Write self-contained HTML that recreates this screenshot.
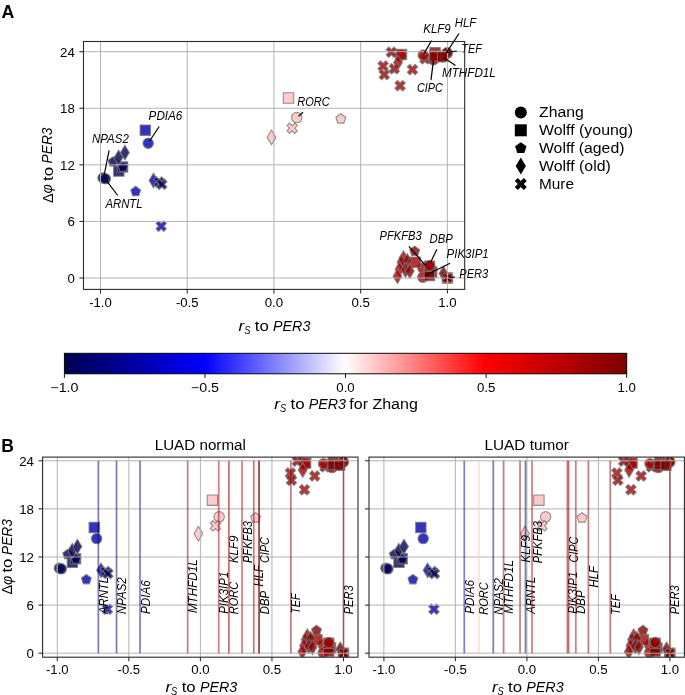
<!DOCTYPE html>
<html><head><meta charset="utf-8"><style>html,body{margin:0;padding:0;background:#fff;}svg{display:block;will-change:transform;}svg text{font-family:"Liberation Sans", sans-serif;}</style></head><body>
<svg width="685" height="695" viewBox="0 0 685 695">
<rect width="685" height="695" fill="#fff"/>
<defs>
<clipPath id="cA"><rect x="83.50" y="41.50" width="381.20" height="247.90"/></clipPath>
<clipPath id="cBL"><rect x="42.60" y="457.10" width="315.40" height="200.10"/></clipPath>
<clipPath id="cBR"><rect x="369.00" y="457.10" width="315.40" height="200.10"/></clipPath>
<linearGradient id="cb" x1="0" x2="1" y1="0" y2="0"><stop offset="0.0000" stop-color="#00004c"/><stop offset="0.0156" stop-color="#000058"/><stop offset="0.0312" stop-color="#000063"/><stop offset="0.0469" stop-color="#00006e"/><stop offset="0.0625" stop-color="#000079"/><stop offset="0.0781" stop-color="#000084"/><stop offset="0.0938" stop-color="#000090"/><stop offset="0.1094" stop-color="#00009b"/><stop offset="0.1250" stop-color="#0000a6"/><stop offset="0.1406" stop-color="#0000b1"/><stop offset="0.1562" stop-color="#0000bc"/><stop offset="0.1719" stop-color="#0000c8"/><stop offset="0.1875" stop-color="#0000d3"/><stop offset="0.2031" stop-color="#0000de"/><stop offset="0.2188" stop-color="#0000e9"/><stop offset="0.2344" stop-color="#0000f4"/><stop offset="0.2500" stop-color="#0101ff"/><stop offset="0.2656" stop-color="#1111ff"/><stop offset="0.2812" stop-color="#2121ff"/><stop offset="0.2969" stop-color="#3131ff"/><stop offset="0.3125" stop-color="#4141ff"/><stop offset="0.3281" stop-color="#5151ff"/><stop offset="0.3438" stop-color="#6161ff"/><stop offset="0.3594" stop-color="#7171ff"/><stop offset="0.3750" stop-color="#8181ff"/><stop offset="0.3906" stop-color="#9191ff"/><stop offset="0.4062" stop-color="#a1a1ff"/><stop offset="0.4219" stop-color="#b1b1ff"/><stop offset="0.4375" stop-color="#c1c1ff"/><stop offset="0.4531" stop-color="#d1d1ff"/><stop offset="0.4688" stop-color="#e1e1ff"/><stop offset="0.4844" stop-color="#f1f1ff"/><stop offset="0.5000" stop-color="#fffdfd"/><stop offset="0.5156" stop-color="#ffeded"/><stop offset="0.5312" stop-color="#ffdddd"/><stop offset="0.5469" stop-color="#ffcdcd"/><stop offset="0.5625" stop-color="#ffbdbd"/><stop offset="0.5781" stop-color="#ffadad"/><stop offset="0.5938" stop-color="#ff9d9d"/><stop offset="0.6094" stop-color="#ff8d8d"/><stop offset="0.6250" stop-color="#ff7d7d"/><stop offset="0.6406" stop-color="#ff6d6d"/><stop offset="0.6562" stop-color="#ff5d5d"/><stop offset="0.6719" stop-color="#ff4d4d"/><stop offset="0.6875" stop-color="#ff3d3d"/><stop offset="0.7031" stop-color="#ff2d2d"/><stop offset="0.7188" stop-color="#ff1d1d"/><stop offset="0.7344" stop-color="#ff0d0d"/><stop offset="0.7500" stop-color="#fe0000"/><stop offset="0.7656" stop-color="#f60000"/><stop offset="0.7812" stop-color="#ee0000"/><stop offset="0.7969" stop-color="#e60000"/><stop offset="0.8125" stop-color="#de0000"/><stop offset="0.8281" stop-color="#d60000"/><stop offset="0.8438" stop-color="#ce0000"/><stop offset="0.8594" stop-color="#c60000"/><stop offset="0.8750" stop-color="#be0000"/><stop offset="0.8906" stop-color="#b60000"/><stop offset="0.9062" stop-color="#ae0000"/><stop offset="0.9219" stop-color="#a60000"/><stop offset="0.9375" stop-color="#9e0000"/><stop offset="0.9531" stop-color="#960000"/><stop offset="0.9688" stop-color="#8e0000"/><stop offset="0.9844" stop-color="#860000"/><stop offset="1.0000" stop-color="#800000"/></linearGradient>
</defs>
<text x="1.60" y="17.60" font-size="17.60" text-anchor="start" font-weight="bold" textLength="12.85" lengthAdjust="spacingAndGlyphs" fill="#000">A</text>
<g clip-path="url(#cA)">
<path d="M422.40 64.00 L425.00 61.40 L427.60 64.00 L430.20 61.40 L427.60 58.80 L430.20 56.20 L427.60 53.60 L425.00 56.20 L422.40 53.60 L419.80 56.20 L422.40 58.80 L419.80 61.40 Z" fill="#820000" fill-opacity="0.8" stroke="#777777" stroke-opacity="0.8" stroke-width="1.10" stroke-linejoin="miter"/>
<path d="M433.40 62.20 L436.00 59.60 L438.60 62.20 L441.20 59.60 L438.60 57.00 L441.20 54.40 L438.60 51.80 L436.00 54.40 L433.40 51.80 L430.80 54.40 L433.40 57.00 L430.80 59.60 Z" fill="#820000" fill-opacity="0.8" stroke="#777777" stroke-opacity="0.8" stroke-width="1.10" stroke-linejoin="miter"/>
<circle cx="103.00" cy="178.00" r="5.20" fill="#00004f" fill-opacity="0.8" stroke="#777777" stroke-opacity="0.8" stroke-width="1.10" stroke-linejoin="miter"/>
<circle cx="105.40" cy="178.80" r="5.20" fill="#000055" fill-opacity="0.8" stroke="#777777" stroke-opacity="0.8" stroke-width="1.10" stroke-linejoin="miter"/>
<circle cx="148.20" cy="143.20" r="5.20" fill="#0000ae" fill-opacity="0.8" stroke="#777777" stroke-opacity="0.8" stroke-width="1.10" stroke-linejoin="miter"/>
<circle cx="296.70" cy="117.60" r="5.20" fill="#ffbdbd" fill-opacity="0.8" stroke="#777777" stroke-opacity="0.8" stroke-width="1.10" stroke-linejoin="miter"/>
<circle cx="400.30" cy="55.80" r="5.20" fill="#930000" fill-opacity="0.8" stroke="#777777" stroke-opacity="0.8" stroke-width="1.10" stroke-linejoin="miter"/>
<circle cx="423.20" cy="55.10" r="5.20" fill="#a20000" fill-opacity="0.8" stroke="#777777" stroke-opacity="0.8" stroke-width="1.10" stroke-linejoin="miter"/>
<circle cx="442.60" cy="57.00" r="5.20" fill="#860000" fill-opacity="0.8" stroke="#777777" stroke-opacity="0.8" stroke-width="1.10" stroke-linejoin="miter"/>
<circle cx="447.30" cy="53.20" r="5.20" fill="#820000" fill-opacity="0.8" stroke="#777777" stroke-opacity="0.8" stroke-width="1.10" stroke-linejoin="miter"/>
<circle cx="433.40" cy="59.70" r="5.20" fill="#930000" fill-opacity="0.8" stroke="#777777" stroke-opacity="0.8" stroke-width="1.10" stroke-linejoin="miter"/>
<circle cx="447.10" cy="52.80" r="5.20" fill="#820000" fill-opacity="0.8" stroke="#777777" stroke-opacity="0.8" stroke-width="1.10" stroke-linejoin="miter"/>
<circle cx="422.80" cy="268.10" r="5.20" fill="#a80000" fill-opacity="0.8" stroke="#777777" stroke-opacity="0.8" stroke-width="1.10" stroke-linejoin="miter"/>
<circle cx="422.80" cy="277.30" r="5.20" fill="#a30000" fill-opacity="0.8" stroke="#777777" stroke-opacity="0.8" stroke-width="1.10" stroke-linejoin="miter"/>
<path d="M113.60 176.30 L124.00 176.30 L124.00 165.90 L113.60 165.90 Z" fill="#00004f" fill-opacity="0.8" stroke="#777777" stroke-opacity="0.8" stroke-width="1.10" stroke-linejoin="miter"/>
<path d="M117.40 172.20 L127.80 172.20 L127.80 161.80 L117.40 161.80 Z" fill="#000055" fill-opacity="0.8" stroke="#777777" stroke-opacity="0.8" stroke-width="1.10" stroke-linejoin="miter"/>
<path d="M140.10 135.40 L150.50 135.40 L150.50 125.00 L140.10 125.00 Z" fill="#0000ae" fill-opacity="0.8" stroke="#777777" stroke-opacity="0.8" stroke-width="1.10" stroke-linejoin="miter"/>
<path d="M283.30 103.20 L293.70 103.20 L293.70 92.80 L283.30 92.80 Z" fill="#ffbdbd" fill-opacity="0.8" stroke="#777777" stroke-opacity="0.8" stroke-width="1.10" stroke-linejoin="miter"/>
<path d="M396.30 59.60 L406.70 59.60 L406.70 49.20 L396.30 49.20 Z" fill="#a20000" fill-opacity="0.8" stroke="#777777" stroke-opacity="0.8" stroke-width="1.10" stroke-linejoin="miter"/>
<path d="M429.90 57.90 L440.30 57.90 L440.30 47.50 L429.90 47.50 Z" fill="#930000" fill-opacity="0.8" stroke="#777777" stroke-opacity="0.8" stroke-width="1.10" stroke-linejoin="miter"/>
<path d="M429.60 61.00 L440.00 61.00 L440.00 50.60 L429.60 50.60 Z" fill="#860000" fill-opacity="0.8" stroke="#777777" stroke-opacity="0.8" stroke-width="1.10" stroke-linejoin="miter"/>
<path d="M437.40 61.80 L447.80 61.80 L447.80 51.40 L437.40 51.40 Z" fill="#820000" fill-opacity="0.8" stroke="#777777" stroke-opacity="0.8" stroke-width="1.10" stroke-linejoin="miter"/>
<path d="M410.10 267.50 L420.50 267.50 L420.50 257.10 L410.10 257.10 Z" fill="#a80000" fill-opacity="0.8" stroke="#777777" stroke-opacity="0.8" stroke-width="1.10" stroke-linejoin="miter"/>
<path d="M426.50 277.20 L436.90 277.20 L436.90 266.80 L426.50 266.80 Z" fill="#a30000" fill-opacity="0.8" stroke="#777777" stroke-opacity="0.8" stroke-width="1.10" stroke-linejoin="miter"/>
<path d="M424.20 278.00 L434.60 278.00 L434.60 267.60 L424.20 267.60 Z" fill="#820000" fill-opacity="0.8" stroke="#777777" stroke-opacity="0.8" stroke-width="1.10" stroke-linejoin="miter"/>
<path d="M424.20 280.70 L434.60 280.70 L434.60 270.30 L424.20 270.30 Z" fill="#860000" fill-opacity="0.8" stroke="#777777" stroke-opacity="0.8" stroke-width="1.10" stroke-linejoin="miter"/>
<path d="M424.30 271.50 L434.70 271.50 L434.70 261.10 L424.30 261.10 Z" fill="#9a0000" fill-opacity="0.8" stroke="#777777" stroke-opacity="0.8" stroke-width="1.10" stroke-linejoin="miter"/>
<path d="M442.20 283.20 L452.60 283.20 L452.60 272.80 L442.20 272.80 Z" fill="#800000" fill-opacity="0.45" stroke="#777777" stroke-opacity="0.8" stroke-width="1.10" stroke-linejoin="miter"/>
<path d="M113.10 156.70 L108.15 160.29 L110.04 166.10 L116.16 166.10 L118.05 160.29 Z" fill="#00004f" fill-opacity="0.8" stroke="#777777" stroke-opacity="0.8" stroke-width="1.10" stroke-linejoin="miter"/>
<path d="M123.00 162.00 L118.05 165.59 L119.94 171.40 L126.06 171.40 L127.95 165.59 Z" fill="#000055" fill-opacity="0.8" stroke="#777777" stroke-opacity="0.8" stroke-width="1.10" stroke-linejoin="miter"/>
<path d="M135.70 186.30 L130.75 189.89 L132.64 195.71 L138.76 195.71 L140.65 189.89 Z" fill="#0000ae" fill-opacity="0.8" stroke="#777777" stroke-opacity="0.8" stroke-width="1.10" stroke-linejoin="miter"/>
<path d="M340.80 113.70 L335.85 117.29 L337.74 123.10 L343.86 123.10 L345.75 117.29 Z" fill="#ffbdbd" fill-opacity="0.8" stroke="#777777" stroke-opacity="0.8" stroke-width="1.10" stroke-linejoin="miter"/>
<path d="M414.70 246.10 L409.75 249.69 L411.64 255.51 L417.76 255.51 L419.65 249.69 Z" fill="#820000" fill-opacity="0.8" stroke="#777777" stroke-opacity="0.8" stroke-width="1.10" stroke-linejoin="miter"/>
<path d="M447.40 272.80 L442.45 276.39 L444.34 282.21 L450.46 282.21 L452.35 276.39 Z" fill="#800000" fill-opacity="0.3" stroke="#777777" stroke-opacity="0.8" stroke-width="1.10" stroke-linejoin="miter"/>
<path d="M118.60 164.85 L123.01 157.50 L118.60 150.14 L114.19 157.50 Z" fill="#00004f" fill-opacity="0.8" stroke="#777777" stroke-opacity="0.8" stroke-width="1.10" stroke-linejoin="miter"/>
<path d="M124.90 159.95 L129.31 152.60 L124.90 145.24 L120.49 152.60 Z" fill="#000055" fill-opacity="0.8" stroke="#777777" stroke-opacity="0.8" stroke-width="1.10" stroke-linejoin="miter"/>
<path d="M153.50 187.85 L157.91 180.50 L153.50 173.14 L149.09 180.50 Z" fill="#0000ae" fill-opacity="0.8" stroke="#777777" stroke-opacity="0.8" stroke-width="1.10" stroke-linejoin="miter"/>
<path d="M271.50 144.75 L275.91 137.40 L271.50 130.04 L267.09 137.40 Z" fill="#ffbdbd" fill-opacity="0.8" stroke="#777777" stroke-opacity="0.8" stroke-width="1.10" stroke-linejoin="miter"/>
<path d="M398.00 69.85 L402.41 62.50 L398.00 55.14 L393.59 62.50 Z" fill="#a20000" fill-opacity="0.8" stroke="#777777" stroke-opacity="0.8" stroke-width="1.10" stroke-linejoin="miter"/>
<path d="M403.50 265.45 L407.91 258.10 L403.50 250.75 L399.09 258.10 Z" fill="#a80000" fill-opacity="0.8" stroke="#777777" stroke-opacity="0.8" stroke-width="1.10" stroke-linejoin="miter"/>
<path d="M401.50 269.65 L405.91 262.30 L401.50 254.95 L397.09 262.30 Z" fill="#930000" fill-opacity="0.8" stroke="#777777" stroke-opacity="0.8" stroke-width="1.10" stroke-linejoin="miter"/>
<path d="M407.40 268.35 L411.81 261.00 L407.40 253.65 L402.99 261.00 Z" fill="#820000" fill-opacity="0.8" stroke="#777777" stroke-opacity="0.8" stroke-width="1.10" stroke-linejoin="miter"/>
<path d="M399.50 276.55 L403.91 269.20 L399.50 261.85 L395.09 269.20 Z" fill="#a20000" fill-opacity="0.8" stroke="#777777" stroke-opacity="0.8" stroke-width="1.10" stroke-linejoin="miter"/>
<path d="M405.50 277.35 L409.91 270.00 L405.50 262.65 L401.09 270.00 Z" fill="#820000" fill-opacity="0.8" stroke="#777777" stroke-opacity="0.8" stroke-width="1.10" stroke-linejoin="miter"/>
<path d="M397.50 283.55 L401.91 276.20 L397.50 268.85 L393.09 276.20 Z" fill="#a30000" fill-opacity="0.8" stroke="#777777" stroke-opacity="0.8" stroke-width="1.10" stroke-linejoin="miter"/>
<path d="M409.80 278.35 L414.21 271.00 L409.80 263.65 L405.39 271.00 Z" fill="#860000" fill-opacity="0.8" stroke="#777777" stroke-opacity="0.8" stroke-width="1.10" stroke-linejoin="miter"/>
<path d="M443.40 280.85 L447.81 273.50 L443.40 266.15 L438.99 273.50 Z" fill="#800000" fill-opacity="0.8" stroke="#777777" stroke-opacity="0.8" stroke-width="1.10" stroke-linejoin="miter"/>
<circle cx="429.60" cy="265.50" r="5.20" fill="#9a0000" fill-opacity="0.8" stroke="#777777" stroke-opacity="0.8" stroke-width="1.10" stroke-linejoin="miter"/>
<path d="M156.40 187.20 L159.00 184.60 L161.60 187.20 L164.20 184.60 L161.60 182.00 L164.20 179.40 L161.60 176.80 L159.00 179.40 L156.40 176.80 L153.80 179.40 L156.40 182.00 L153.80 184.60 Z" fill="#00004f" fill-opacity="0.8" stroke="#777777" stroke-opacity="0.8" stroke-width="1.10" stroke-linejoin="miter"/>
<path d="M159.20 189.50 L161.80 186.90 L164.40 189.50 L167.00 186.90 L164.40 184.30 L167.00 181.70 L164.40 179.10 L161.80 181.70 L159.20 179.10 L156.60 181.70 L159.20 184.30 L156.60 186.90 Z" fill="#000055" fill-opacity="0.8" stroke="#777777" stroke-opacity="0.8" stroke-width="1.10" stroke-linejoin="miter"/>
<path d="M158.60 231.40 L161.20 228.80 L163.80 231.40 L166.40 228.80 L163.80 226.20 L166.40 223.60 L163.80 221.00 L161.20 223.60 L158.60 221.00 L156.00 223.60 L158.60 226.20 L156.00 228.80 Z" fill="#0000ae" fill-opacity="0.8" stroke="#777777" stroke-opacity="0.8" stroke-width="1.10" stroke-linejoin="miter"/>
<path d="M289.60 133.40 L292.20 130.80 L294.80 133.40 L297.40 130.80 L294.80 128.20 L297.40 125.60 L294.80 123.00 L292.20 125.60 L289.60 123.00 L287.00 125.60 L289.60 128.20 L287.00 130.80 Z" fill="#ffbdbd" fill-opacity="0.8" stroke="#777777" stroke-opacity="0.8" stroke-width="1.10" stroke-linejoin="miter"/>
<path d="M388.80 57.40 L391.40 54.80 L394.00 57.40 L396.60 54.80 L394.00 52.20 L396.60 49.60 L394.00 47.00 L391.40 49.60 L388.80 47.00 L386.20 49.60 L388.80 52.20 L386.20 54.80 Z" fill="#860000" fill-opacity="0.8" stroke="#777777" stroke-opacity="0.8" stroke-width="1.10" stroke-linejoin="miter"/>
<path d="M380.50 71.30 L383.10 68.70 L385.70 71.30 L388.30 68.70 L385.70 66.10 L388.30 63.50 L385.70 60.90 L383.10 63.50 L380.50 60.90 L377.90 63.50 L380.50 66.10 L377.90 68.70 Z" fill="#a20000" fill-opacity="0.8" stroke="#777777" stroke-opacity="0.8" stroke-width="1.10" stroke-linejoin="miter"/>
<path d="M381.70 79.80 L384.30 77.20 L386.90 79.80 L389.50 77.20 L386.90 74.60 L389.50 72.00 L386.90 69.40 L384.30 72.00 L381.70 69.40 L379.10 72.00 L381.70 74.60 L379.10 77.20 Z" fill="#9a0000" fill-opacity="0.8" stroke="#777777" stroke-opacity="0.8" stroke-width="1.10" stroke-linejoin="miter"/>
<path d="M391.70 73.90 L394.30 71.30 L396.90 73.90 L399.50 71.30 L396.90 68.70 L399.50 66.10 L396.90 63.50 L394.30 66.10 L391.70 63.50 L389.10 66.10 L391.70 68.70 L389.10 71.30 Z" fill="#930000" fill-opacity="0.8" stroke="#777777" stroke-opacity="0.8" stroke-width="1.10" stroke-linejoin="miter"/>
<path d="M397.50 90.90 L400.10 88.30 L402.70 90.90 L405.30 88.30 L402.70 85.70 L405.30 83.10 L402.70 80.50 L400.10 83.10 L397.50 80.50 L394.90 83.10 L397.50 85.70 L394.90 88.30 Z" fill="#a80000" fill-opacity="0.8" stroke="#777777" stroke-opacity="0.8" stroke-width="1.10" stroke-linejoin="miter"/>
<path d="M409.90 74.80 L412.50 72.20 L415.10 74.80 L417.70 72.20 L415.10 69.60 L417.70 67.00 L415.10 64.40 L412.50 67.00 L409.90 64.40 L407.30 67.00 L409.90 69.60 L407.30 72.20 Z" fill="#a30000" fill-opacity="0.8" stroke="#777777" stroke-opacity="0.8" stroke-width="1.10" stroke-linejoin="miter"/>
<path d="M444.80 283.20 L447.40 280.60 L450.00 283.20 L452.60 280.60 L450.00 278.00 L452.60 275.40 L450.00 272.80 L447.40 275.40 L444.80 272.80 L442.20 275.40 L444.80 278.00 L442.20 280.60 Z" fill="#800000" fill-opacity="0.95" stroke="#777777" stroke-opacity="0.8" stroke-width="1.10" stroke-linejoin="miter"/>
</g>
<line x1="100.50" y1="41.50" x2="100.50" y2="289.40" stroke="#b0b0b0" stroke-width="0.96" stroke-linecap="butt"/>
<line x1="187.22" y1="41.50" x2="187.22" y2="289.40" stroke="#b0b0b0" stroke-width="0.96" stroke-linecap="butt"/>
<line x1="273.95" y1="41.50" x2="273.95" y2="289.40" stroke="#b0b0b0" stroke-width="0.96" stroke-linecap="butt"/>
<line x1="360.67" y1="41.50" x2="360.67" y2="289.40" stroke="#b0b0b0" stroke-width="0.96" stroke-linecap="butt"/>
<line x1="447.40" y1="41.50" x2="447.40" y2="289.40" stroke="#b0b0b0" stroke-width="0.96" stroke-linecap="butt"/>
<line x1="83.50" y1="278.00" x2="464.70" y2="278.00" stroke="#b0b0b0" stroke-width="0.96" stroke-linecap="butt"/>
<line x1="83.50" y1="221.43" x2="464.70" y2="221.43" stroke="#b0b0b0" stroke-width="0.96" stroke-linecap="butt"/>
<line x1="83.50" y1="164.85" x2="464.70" y2="164.85" stroke="#b0b0b0" stroke-width="0.96" stroke-linecap="butt"/>
<line x1="83.50" y1="108.27" x2="464.70" y2="108.27" stroke="#b0b0b0" stroke-width="0.96" stroke-linecap="butt"/>
<line x1="83.50" y1="51.70" x2="464.70" y2="51.70" stroke="#b0b0b0" stroke-width="0.96" stroke-linecap="butt"/>
<line x1="159.20" y1="126.50" x2="149.60" y2="141.00" stroke="#000" stroke-width="1.20" stroke-linecap="butt"/>
<text x="148.60" y="120.00" font-size="11.98" text-anchor="start" font-style="italic" textLength="33.77" lengthAdjust="spacingAndGlyphs" fill="#000">PDIA6</text>
<line x1="109.10" y1="150.40" x2="104.00" y2="176.00" stroke="#000" stroke-width="1.20" stroke-linecap="butt"/>
<text x="92.00" y="142.50" font-size="11.98" text-anchor="start" font-style="italic" textLength="36.80" lengthAdjust="spacingAndGlyphs" fill="#000">NPAS2</text>
<line x1="117.80" y1="195.50" x2="106.60" y2="180.90" stroke="#000" stroke-width="1.20" stroke-linecap="butt"/>
<text x="105.40" y="208.00" font-size="11.98" text-anchor="start" font-style="italic" textLength="37.23" lengthAdjust="spacingAndGlyphs" fill="#000">ARNTL</text>
<line x1="303.00" y1="112.30" x2="298.60" y2="116.20" stroke="#000" stroke-width="1.20" stroke-linecap="butt"/>
<text x="297.30" y="106.30" font-size="11.98" text-anchor="start" font-style="italic" textLength="32.49" lengthAdjust="spacingAndGlyphs" fill="#000">RORC</text>
<line x1="431.50" y1="40.50" x2="424.00" y2="53.60" stroke="#000" stroke-width="1.20" stroke-linecap="butt"/>
<text x="423.30" y="33.30" font-size="11.98" text-anchor="start" font-style="italic" textLength="27.39" lengthAdjust="spacingAndGlyphs" fill="#000">KLF9</text>
<line x1="459.00" y1="33.50" x2="446.30" y2="52.80" stroke="#000" stroke-width="1.20" stroke-linecap="butt"/>
<text x="454.80" y="26.80" font-size="11.98" text-anchor="start" font-style="italic" textLength="21.29" lengthAdjust="spacingAndGlyphs" fill="#000">HLF</text>
<line x1="456.90" y1="51.00" x2="446.80" y2="52.30" stroke="#000" stroke-width="1.20" stroke-linecap="butt"/>
<text x="461.30" y="52.60" font-size="11.98" text-anchor="start" font-style="italic" textLength="20.54" lengthAdjust="spacingAndGlyphs" fill="#000">TEF</text>
<line x1="455.50" y1="65.50" x2="443.70" y2="57.60" stroke="#000" stroke-width="1.20" stroke-linecap="butt"/>
<text x="442.00" y="77.10" font-size="11.98" text-anchor="start" font-style="italic" textLength="53.84" lengthAdjust="spacingAndGlyphs" fill="#000">MTHFD1L</text>
<line x1="431.00" y1="79.90" x2="433.50" y2="60.20" stroke="#000" stroke-width="1.20" stroke-linecap="butt"/>
<text x="417.00" y="92.30" font-size="11.98" text-anchor="start" font-style="italic" textLength="25.93" lengthAdjust="spacingAndGlyphs" fill="#000">CIPC</text>
<line x1="408.90" y1="246.40" x2="425.70" y2="265.60" stroke="#000" stroke-width="1.20" stroke-linecap="butt"/>
<text x="379.60" y="239.90" font-size="11.98" text-anchor="start" font-style="italic" textLength="42.17" lengthAdjust="spacingAndGlyphs" fill="#000">PFKFB3</text>
<line x1="436.90" y1="249.20" x2="430.40" y2="262.70" stroke="#000" stroke-width="1.20" stroke-linecap="butt"/>
<text x="429.60" y="242.50" font-size="11.98" text-anchor="start" font-style="italic" textLength="23.27" lengthAdjust="spacingAndGlyphs" fill="#000">DBP</text>
<line x1="450.10" y1="263.20" x2="425.20" y2="275.50" stroke="#000" stroke-width="1.20" stroke-linecap="butt"/>
<text x="446.60" y="257.80" font-size="11.98" text-anchor="start" font-style="italic" textLength="42.08" lengthAdjust="spacingAndGlyphs" fill="#000">PIK3IP1</text>
<line x1="454.80" y1="277.20" x2="449.70" y2="277.20" stroke="#000" stroke-width="1.20" stroke-linecap="butt"/>
<text x="459.30" y="277.60" font-size="11.98" text-anchor="start" font-style="italic" textLength="29.00" lengthAdjust="spacingAndGlyphs" fill="#000">PER3</text>
<rect x="83.50" y="41.50" width="381.20" height="247.90" fill="none" stroke="#2a2a2a" stroke-width="1.1"/>
<line x1="100.50" y1="289.40" x2="100.50" y2="293.50" stroke="#2a2a2a" stroke-width="1.05" stroke-linecap="butt"/>
<text x="100.50" y="306.60" font-size="12.30" text-anchor="middle" textLength="22.63" lengthAdjust="spacingAndGlyphs" fill="#000">-1.0</text>
<line x1="187.22" y1="289.40" x2="187.22" y2="293.50" stroke="#2a2a2a" stroke-width="1.05" stroke-linecap="butt"/>
<text x="187.22" y="306.60" font-size="12.30" text-anchor="middle" textLength="22.63" lengthAdjust="spacingAndGlyphs" fill="#000">-0.5</text>
<line x1="273.95" y1="289.40" x2="273.95" y2="293.50" stroke="#2a2a2a" stroke-width="1.05" stroke-linecap="butt"/>
<text x="273.95" y="306.60" font-size="12.30" text-anchor="middle" textLength="18.45" lengthAdjust="spacingAndGlyphs" fill="#000">0.0</text>
<line x1="360.67" y1="289.40" x2="360.67" y2="293.50" stroke="#2a2a2a" stroke-width="1.05" stroke-linecap="butt"/>
<text x="360.67" y="306.60" font-size="12.30" text-anchor="middle" textLength="18.45" lengthAdjust="spacingAndGlyphs" fill="#000">0.5</text>
<line x1="447.40" y1="289.40" x2="447.40" y2="293.50" stroke="#2a2a2a" stroke-width="1.05" stroke-linecap="butt"/>
<text x="447.40" y="306.60" font-size="12.30" text-anchor="middle" textLength="18.45" lengthAdjust="spacingAndGlyphs" fill="#000">1.0</text>
<line x1="79.40" y1="278.00" x2="83.50" y2="278.00" stroke="#2a2a2a" stroke-width="1.05" stroke-linecap="butt"/>
<text x="74.90" y="282.80" font-size="12.30" text-anchor="end" textLength="7.38" lengthAdjust="spacingAndGlyphs" fill="#000">0</text>
<line x1="79.40" y1="221.43" x2="83.50" y2="221.43" stroke="#2a2a2a" stroke-width="1.05" stroke-linecap="butt"/>
<text x="74.90" y="226.23" font-size="12.30" text-anchor="end" textLength="7.38" lengthAdjust="spacingAndGlyphs" fill="#000">6</text>
<line x1="79.40" y1="164.85" x2="83.50" y2="164.85" stroke="#2a2a2a" stroke-width="1.05" stroke-linecap="butt"/>
<text x="74.90" y="169.65" font-size="12.30" text-anchor="end" textLength="14.76" lengthAdjust="spacingAndGlyphs" fill="#000">12</text>
<line x1="79.40" y1="108.27" x2="83.50" y2="108.27" stroke="#2a2a2a" stroke-width="1.05" stroke-linecap="butt"/>
<text x="74.90" y="113.07" font-size="12.30" text-anchor="end" textLength="14.76" lengthAdjust="spacingAndGlyphs" fill="#000">18</text>
<line x1="79.40" y1="51.70" x2="83.50" y2="51.70" stroke="#2a2a2a" stroke-width="1.05" stroke-linecap="butt"/>
<text x="74.90" y="56.50" font-size="12.30" text-anchor="end" textLength="14.76" lengthAdjust="spacingAndGlyphs" fill="#000">24</text>
<text x="238.60" y="331.00" font-size="14.84" text-anchor="start" font-style="italic" textLength="5.76" lengthAdjust="spacingAndGlyphs" fill="#000">r</text>
<text x="244.20" y="334.20" font-size="10.39" text-anchor="start" font-style="italic" textLength="6.22" lengthAdjust="spacingAndGlyphs" fill="#000">S</text>
<text x="254.80" y="331.00" font-size="14.84" text-anchor="start" textLength="14.05" lengthAdjust="spacingAndGlyphs" fill="#000">to</text>
<text x="273.00" y="331.00" font-size="14.84" text-anchor="start" font-style="italic" textLength="37.36" lengthAdjust="spacingAndGlyphs" fill="#000">PER3</text>
<text x="52.50" y="203.00" font-size="14.84" text-anchor="start" transform="rotate(-90 52.50 203.00)" textLength="9.58" lengthAdjust="spacingAndGlyphs" fill="#000">Δ</text>
<text x="52.50" y="193.40" font-size="14.84" text-anchor="start" font-style="italic" transform="rotate(-90 52.50 193.40)" textLength="9.24" lengthAdjust="spacingAndGlyphs" fill="#000">φ</text>
<text x="52.50" y="181.00" font-size="14.84" text-anchor="start" transform="rotate(-90 52.50 181.00)" textLength="14.05" lengthAdjust="spacingAndGlyphs" fill="#000">to</text>
<text x="52.50" y="163.40" font-size="14.84" text-anchor="start" font-style="italic" transform="rotate(-90 52.50 163.40)" textLength="35.92" lengthAdjust="spacingAndGlyphs" fill="#000">PER3</text>
<circle cx="520.80" cy="112.40" r="6.00" fill="#000" fill-opacity="1"/>
<text x="539.00" y="117.00" font-size="14.84" text-anchor="start" textLength="44.80" lengthAdjust="spacingAndGlyphs" fill="#000">Zhang</text>
<path d="M514.80 136.30 L526.80 136.30 L526.80 124.30 L514.80 124.30 Z" fill="#000" fill-opacity="1"/>
<text x="539.00" y="134.90" font-size="14.84" text-anchor="start" textLength="93.98" lengthAdjust="spacingAndGlyphs" fill="#000">Wolff (young)</text>
<path d="M520.80 142.20 L515.09 146.35 L517.27 153.05 L524.33 153.05 L526.51 146.35 Z" fill="#000" fill-opacity="1"/>
<text x="539.00" y="152.80" font-size="14.84" text-anchor="start" textLength="85.46" lengthAdjust="spacingAndGlyphs" fill="#000">Wolff (aged)</text>
<path d="M520.80 174.59 L525.89 166.10 L520.80 157.61 L515.71 166.10 Z" fill="#000" fill-opacity="1"/>
<text x="539.00" y="170.70" font-size="14.84" text-anchor="start" textLength="71.84" lengthAdjust="spacingAndGlyphs" fill="#000">Wolff (old)</text>
<path d="M517.80 190.00 L520.80 187.00 L523.80 190.00 L526.80 187.00 L523.80 184.00 L526.80 181.00 L523.80 178.00 L520.80 181.00 L517.80 178.00 L514.80 181.00 L517.80 184.00 L514.80 187.00 Z" fill="#000" fill-opacity="1"/>
<text x="539.00" y="188.60" font-size="14.84" text-anchor="start" textLength="35.01" lengthAdjust="spacingAndGlyphs" fill="#000">Mure</text>
<rect x="64.4" y="353.3" width="562.3" height="20.5" fill="url(#cb)" stroke="#000" stroke-width="0.96"/>
<line x1="64.40" y1="373.80" x2="64.40" y2="377.90" stroke="#000" stroke-width="0.96" stroke-linecap="butt"/>
<text x="64.40" y="391.50" font-size="12.30" text-anchor="middle" textLength="28.17" lengthAdjust="spacingAndGlyphs" fill="#000">−1.0</text>
<line x1="204.97" y1="373.80" x2="204.97" y2="377.90" stroke="#000" stroke-width="0.96" stroke-linecap="butt"/>
<text x="204.97" y="391.50" font-size="12.30" text-anchor="middle" textLength="28.17" lengthAdjust="spacingAndGlyphs" fill="#000">−0.5</text>
<line x1="345.55" y1="373.80" x2="345.55" y2="377.90" stroke="#000" stroke-width="0.96" stroke-linecap="butt"/>
<text x="345.55" y="391.50" font-size="12.30" text-anchor="middle" textLength="18.45" lengthAdjust="spacingAndGlyphs" fill="#000">0.0</text>
<line x1="486.12" y1="373.80" x2="486.12" y2="377.90" stroke="#000" stroke-width="0.96" stroke-linecap="butt"/>
<text x="486.12" y="391.50" font-size="12.30" text-anchor="middle" textLength="18.45" lengthAdjust="spacingAndGlyphs" fill="#000">0.5</text>
<line x1="626.70" y1="373.80" x2="626.70" y2="377.90" stroke="#000" stroke-width="0.96" stroke-linecap="butt"/>
<text x="626.70" y="391.50" font-size="12.30" text-anchor="middle" textLength="18.45" lengthAdjust="spacingAndGlyphs" fill="#000">1.0</text>
<text x="274.30" y="409.10" font-size="14.84" text-anchor="start" font-style="italic" textLength="5.76" lengthAdjust="spacingAndGlyphs" fill="#000">r</text>
<text x="279.90" y="412.30" font-size="10.39" text-anchor="start" font-style="italic" textLength="6.22" lengthAdjust="spacingAndGlyphs" fill="#000">S</text>
<text x="290.50" y="409.10" font-size="14.84" text-anchor="start" textLength="14.05" lengthAdjust="spacingAndGlyphs" fill="#000">to</text>
<text x="308.70" y="409.10" font-size="14.84" text-anchor="start" font-style="italic" textLength="37.36" lengthAdjust="spacingAndGlyphs" fill="#000">PER3</text>
<text x="349.30" y="409.10" font-size="14.84" text-anchor="start" textLength="68.50" lengthAdjust="spacingAndGlyphs" fill="#000">for Zhang</text>
<text x="1.20" y="452.20" font-size="17.60" text-anchor="start" font-weight="bold" textLength="12.65" lengthAdjust="spacingAndGlyphs" fill="#000">B</text>
<g clip-path="url(#cBL)">
<path d="M322.42 472.03 L325.02 469.43 L327.62 472.03 L330.22 469.43 L327.62 466.83 L330.22 464.23 L327.62 461.63 L325.02 464.23 L322.42 461.63 L319.82 464.23 L322.42 466.83 L319.82 469.43 Z" fill="#820000" fill-opacity="0.8" stroke="#777777" stroke-opacity="0.8" stroke-width="1.10" stroke-linejoin="miter"/>
<path d="M331.49 470.50 L334.09 467.90 L336.69 470.50 L339.29 467.90 L336.69 465.30 L339.29 462.70 L336.69 460.10 L334.09 462.70 L331.49 460.10 L328.89 462.70 L331.49 465.30 L328.89 467.90 Z" fill="#820000" fill-opacity="0.8" stroke="#777777" stroke-opacity="0.8" stroke-width="1.10" stroke-linejoin="miter"/>
<circle cx="59.36" cy="568.18" r="5.20" fill="#00004f" fill-opacity="0.8" stroke="#777777" stroke-opacity="0.8" stroke-width="1.10" stroke-linejoin="miter"/>
<circle cx="61.34" cy="568.86" r="5.20" fill="#000055" fill-opacity="0.8" stroke="#777777" stroke-opacity="0.8" stroke-width="1.10" stroke-linejoin="miter"/>
<circle cx="96.65" cy="538.59" r="5.20" fill="#0000ae" fill-opacity="0.8" stroke="#777777" stroke-opacity="0.8" stroke-width="1.10" stroke-linejoin="miter"/>
<circle cx="219.17" cy="516.83" r="5.20" fill="#ffbdbd" fill-opacity="0.8" stroke="#777777" stroke-opacity="0.8" stroke-width="1.10" stroke-linejoin="miter"/>
<circle cx="304.64" cy="464.28" r="5.20" fill="#930000" fill-opacity="0.8" stroke="#777777" stroke-opacity="0.8" stroke-width="1.10" stroke-linejoin="miter"/>
<circle cx="323.53" cy="463.69" r="5.20" fill="#a20000" fill-opacity="0.8" stroke="#777777" stroke-opacity="0.8" stroke-width="1.10" stroke-linejoin="miter"/>
<circle cx="339.54" cy="465.30" r="5.20" fill="#860000" fill-opacity="0.8" stroke="#777777" stroke-opacity="0.8" stroke-width="1.10" stroke-linejoin="miter"/>
<circle cx="343.42" cy="462.07" r="5.20" fill="#820000" fill-opacity="0.8" stroke="#777777" stroke-opacity="0.8" stroke-width="1.10" stroke-linejoin="miter"/>
<circle cx="331.95" cy="467.60" r="5.20" fill="#930000" fill-opacity="0.8" stroke="#777777" stroke-opacity="0.8" stroke-width="1.10" stroke-linejoin="miter"/>
<circle cx="343.25" cy="461.73" r="5.20" fill="#820000" fill-opacity="0.8" stroke="#777777" stroke-opacity="0.8" stroke-width="1.10" stroke-linejoin="miter"/>
<circle cx="323.20" cy="644.78" r="5.20" fill="#a80000" fill-opacity="0.8" stroke="#777777" stroke-opacity="0.8" stroke-width="1.10" stroke-linejoin="miter"/>
<circle cx="323.20" cy="652.60" r="5.20" fill="#a30000" fill-opacity="0.8" stroke="#777777" stroke-opacity="0.8" stroke-width="1.10" stroke-linejoin="miter"/>
<path d="M67.20 567.51 L77.60 567.51 L77.60 557.11 L67.20 557.11 Z" fill="#00004f" fill-opacity="0.8" stroke="#777777" stroke-opacity="0.8" stroke-width="1.10" stroke-linejoin="miter"/>
<path d="M70.33 564.03 L80.73 564.03 L80.73 553.63 L70.33 553.63 Z" fill="#000055" fill-opacity="0.8" stroke="#777777" stroke-opacity="0.8" stroke-width="1.10" stroke-linejoin="miter"/>
<path d="M89.06 532.74 L99.46 532.74 L99.46 522.34 L89.06 522.34 Z" fill="#0000ae" fill-opacity="0.8" stroke="#777777" stroke-opacity="0.8" stroke-width="1.10" stroke-linejoin="miter"/>
<path d="M207.20 505.36 L217.60 505.36 L217.60 494.96 L207.20 494.96 Z" fill="#ffbdbd" fill-opacity="0.8" stroke="#777777" stroke-opacity="0.8" stroke-width="1.10" stroke-linejoin="miter"/>
<path d="M300.43 468.29 L310.83 468.29 L310.83 457.89 L300.43 457.89 Z" fill="#a20000" fill-opacity="0.8" stroke="#777777" stroke-opacity="0.8" stroke-width="1.10" stroke-linejoin="miter"/>
<path d="M328.15 466.85 L338.55 466.85 L338.55 456.45 L328.15 456.45 Z" fill="#930000" fill-opacity="0.8" stroke="#777777" stroke-opacity="0.8" stroke-width="1.10" stroke-linejoin="miter"/>
<path d="M327.90 469.48 L338.30 469.48 L338.30 459.08 L327.90 459.08 Z" fill="#860000" fill-opacity="0.8" stroke="#777777" stroke-opacity="0.8" stroke-width="1.10" stroke-linejoin="miter"/>
<path d="M334.34 470.16 L344.74 470.16 L344.74 459.76 L334.34 459.76 Z" fill="#820000" fill-opacity="0.8" stroke="#777777" stroke-opacity="0.8" stroke-width="1.10" stroke-linejoin="miter"/>
<path d="M311.82 645.05 L322.22 645.05 L322.22 634.65 L311.82 634.65 Z" fill="#a80000" fill-opacity="0.8" stroke="#777777" stroke-opacity="0.8" stroke-width="1.10" stroke-linejoin="miter"/>
<path d="M325.35 653.30 L335.75 653.30 L335.75 642.90 L325.35 642.90 Z" fill="#a30000" fill-opacity="0.8" stroke="#777777" stroke-opacity="0.8" stroke-width="1.10" stroke-linejoin="miter"/>
<path d="M323.45 653.98 L333.85 653.98 L333.85 643.58 L323.45 643.58 Z" fill="#820000" fill-opacity="0.8" stroke="#777777" stroke-opacity="0.8" stroke-width="1.10" stroke-linejoin="miter"/>
<path d="M323.45 656.27 L333.85 656.27 L333.85 645.87 L323.45 645.87 Z" fill="#860000" fill-opacity="0.8" stroke="#777777" stroke-opacity="0.8" stroke-width="1.10" stroke-linejoin="miter"/>
<path d="M323.53 648.45 L333.93 648.45 L333.93 638.05 L323.53 638.05 Z" fill="#9a0000" fill-opacity="0.8" stroke="#777777" stroke-opacity="0.8" stroke-width="1.10" stroke-linejoin="miter"/>
<path d="M338.30 658.40 L348.70 658.40 L348.70 648.00 L338.30 648.00 Z" fill="#800000" fill-opacity="0.45" stroke="#777777" stroke-opacity="0.8" stroke-width="1.10" stroke-linejoin="miter"/>
<path d="M67.70 549.29 L62.75 552.88 L64.64 558.70 L70.75 558.70 L72.64 552.88 Z" fill="#00004f" fill-opacity="0.8" stroke="#777777" stroke-opacity="0.8" stroke-width="1.10" stroke-linejoin="miter"/>
<path d="M75.86 553.80 L70.92 557.39 L72.81 563.20 L78.92 563.20 L80.81 557.39 Z" fill="#000055" fill-opacity="0.8" stroke="#777777" stroke-opacity="0.8" stroke-width="1.10" stroke-linejoin="miter"/>
<path d="M86.34 574.46 L81.40 578.05 L83.28 583.86 L89.40 583.86 L91.29 578.05 Z" fill="#0000ae" fill-opacity="0.8" stroke="#777777" stroke-opacity="0.8" stroke-width="1.10" stroke-linejoin="miter"/>
<path d="M255.55 512.73 L250.61 516.32 L252.50 522.14 L258.61 522.14 L260.50 516.32 Z" fill="#ffbdbd" fill-opacity="0.8" stroke="#777777" stroke-opacity="0.8" stroke-width="1.10" stroke-linejoin="miter"/>
<path d="M316.52 625.30 L311.58 628.89 L313.47 634.71 L319.58 634.71 L321.47 628.89 Z" fill="#820000" fill-opacity="0.8" stroke="#777777" stroke-opacity="0.8" stroke-width="1.10" stroke-linejoin="miter"/>
<path d="M343.50 648.00 L338.55 651.59 L340.44 657.41 L346.56 657.41 L348.45 651.59 Z" fill="#800000" fill-opacity="0.3" stroke="#777777" stroke-opacity="0.8" stroke-width="1.10" stroke-linejoin="miter"/>
<path d="M72.23 558.10 L76.65 550.75 L72.23 543.40 L67.82 550.75 Z" fill="#00004f" fill-opacity="0.8" stroke="#777777" stroke-opacity="0.8" stroke-width="1.10" stroke-linejoin="miter"/>
<path d="M77.43 553.94 L81.84 546.58 L77.43 539.23 L73.02 546.58 Z" fill="#000055" fill-opacity="0.8" stroke="#777777" stroke-opacity="0.8" stroke-width="1.10" stroke-linejoin="miter"/>
<path d="M101.03 577.66 L105.44 570.30 L101.03 562.95 L96.61 570.30 Z" fill="#0000ae" fill-opacity="0.8" stroke="#777777" stroke-opacity="0.8" stroke-width="1.10" stroke-linejoin="miter"/>
<path d="M198.38 541.01 L202.79 533.66 L198.38 526.31 L193.97 533.66 Z" fill="#ffbdbd" fill-opacity="0.8" stroke="#777777" stroke-opacity="0.8" stroke-width="1.10" stroke-linejoin="miter"/>
<path d="M302.74 477.33 L307.16 469.98 L302.74 462.63 L298.33 469.98 Z" fill="#a20000" fill-opacity="0.8" stroke="#777777" stroke-opacity="0.8" stroke-width="1.10" stroke-linejoin="miter"/>
<path d="M307.28 643.63 L311.69 636.28 L307.28 628.93 L302.87 636.28 Z" fill="#a80000" fill-opacity="0.8" stroke="#777777" stroke-opacity="0.8" stroke-width="1.10" stroke-linejoin="miter"/>
<path d="M305.63 647.21 L310.04 639.85 L305.63 632.50 L301.22 639.85 Z" fill="#930000" fill-opacity="0.8" stroke="#777777" stroke-opacity="0.8" stroke-width="1.10" stroke-linejoin="miter"/>
<path d="M310.50 646.10 L314.91 638.75 L310.50 631.39 L306.09 638.75 Z" fill="#820000" fill-opacity="0.8" stroke="#777777" stroke-opacity="0.8" stroke-width="1.10" stroke-linejoin="miter"/>
<path d="M303.98 653.07 L308.39 645.72 L303.98 638.36 L299.57 645.72 Z" fill="#a20000" fill-opacity="0.8" stroke="#777777" stroke-opacity="0.8" stroke-width="1.10" stroke-linejoin="miter"/>
<path d="M308.93 653.75 L313.34 646.40 L308.93 639.04 L304.52 646.40 Z" fill="#820000" fill-opacity="0.8" stroke="#777777" stroke-opacity="0.8" stroke-width="1.10" stroke-linejoin="miter"/>
<path d="M302.33 659.02 L306.74 651.67 L302.33 644.32 L297.92 651.67 Z" fill="#a30000" fill-opacity="0.8" stroke="#777777" stroke-opacity="0.8" stroke-width="1.10" stroke-linejoin="miter"/>
<path d="M312.48 654.60 L316.89 647.25 L312.48 639.89 L308.07 647.25 Z" fill="#860000" fill-opacity="0.8" stroke="#777777" stroke-opacity="0.8" stroke-width="1.10" stroke-linejoin="miter"/>
<path d="M340.20 656.73 L344.61 649.37 L340.20 642.02 L335.79 649.37 Z" fill="#800000" fill-opacity="0.8" stroke="#777777" stroke-opacity="0.8" stroke-width="1.10" stroke-linejoin="miter"/>
<circle cx="328.81" cy="642.57" r="5.20" fill="#9a0000" fill-opacity="0.8" stroke="#777777" stroke-opacity="0.8" stroke-width="1.10" stroke-linejoin="miter"/>
<path d="M102.96 576.78 L105.56 574.18 L108.16 576.78 L110.76 574.18 L108.16 571.58 L110.76 568.98 L108.16 566.38 L105.56 568.98 L102.96 566.38 L100.36 568.98 L102.96 571.58 L100.36 574.18 Z" fill="#00004f" fill-opacity="0.8" stroke="#777777" stroke-opacity="0.8" stroke-width="1.10" stroke-linejoin="miter"/>
<path d="M105.27 578.73 L107.87 576.13 L110.47 578.73 L113.07 576.13 L110.47 573.53 L113.07 570.93 L110.47 568.33 L107.87 570.93 L105.27 568.33 L102.67 570.93 L105.27 573.53 L102.67 576.13 Z" fill="#000055" fill-opacity="0.8" stroke="#777777" stroke-opacity="0.8" stroke-width="1.10" stroke-linejoin="miter"/>
<path d="M104.78 614.36 L107.38 611.76 L109.98 614.36 L112.58 611.76 L109.98 609.16 L112.58 606.56 L109.98 603.96 L107.38 606.56 L104.78 603.96 L102.18 606.56 L104.78 609.16 L102.18 611.76 Z" fill="#0000ae" fill-opacity="0.8" stroke="#777777" stroke-opacity="0.8" stroke-width="1.10" stroke-linejoin="miter"/>
<path d="M212.86 531.04 L215.46 528.44 L218.06 531.04 L220.66 528.44 L218.06 525.84 L220.66 523.24 L218.06 520.64 L215.46 523.24 L212.86 520.64 L210.26 523.24 L212.86 525.84 L210.26 528.44 Z" fill="#ffbdbd" fill-opacity="0.8" stroke="#777777" stroke-opacity="0.8" stroke-width="1.10" stroke-linejoin="miter"/>
<path d="M294.70 466.42 L297.30 463.82 L299.90 466.42 L302.50 463.82 L299.90 461.22 L302.50 458.62 L299.90 456.02 L297.30 458.62 L294.70 456.02 L292.10 458.62 L294.70 461.22 L292.10 463.82 Z" fill="#860000" fill-opacity="0.8" stroke="#777777" stroke-opacity="0.8" stroke-width="1.10" stroke-linejoin="miter"/>
<path d="M287.85 478.24 L290.45 475.64 L293.05 478.24 L295.65 475.64 L293.05 473.04 L295.65 470.44 L293.05 467.84 L290.45 470.44 L287.85 467.84 L285.25 470.44 L287.85 473.04 L285.25 475.64 Z" fill="#a20000" fill-opacity="0.8" stroke="#777777" stroke-opacity="0.8" stroke-width="1.10" stroke-linejoin="miter"/>
<path d="M288.84 485.47 L291.44 482.87 L294.04 485.47 L296.64 482.87 L294.04 480.27 L296.64 477.67 L294.04 475.07 L291.44 477.67 L288.84 475.07 L286.24 477.67 L288.84 480.27 L286.24 482.87 Z" fill="#9a0000" fill-opacity="0.8" stroke="#777777" stroke-opacity="0.8" stroke-width="1.10" stroke-linejoin="miter"/>
<path d="M301.88 494.90 L304.48 492.30 L307.08 494.90 L309.68 492.30 L307.08 489.70 L309.68 487.10 L307.08 484.50 L304.48 487.10 L301.88 484.50 L299.28 487.10 L301.88 489.70 L299.28 492.30 Z" fill="#a80000" fill-opacity="0.8" stroke="#777777" stroke-opacity="0.8" stroke-width="1.10" stroke-linejoin="miter"/>
<path d="M312.11 481.22 L314.71 478.62 L317.31 481.22 L319.91 478.62 L317.31 476.02 L319.91 473.42 L317.31 470.82 L314.71 473.42 L312.11 470.82 L309.51 473.42 L312.11 476.02 L309.51 478.62 Z" fill="#a30000" fill-opacity="0.8" stroke="#777777" stroke-opacity="0.8" stroke-width="1.10" stroke-linejoin="miter"/>
<path d="M340.90 658.40 L343.50 655.80 L346.10 658.40 L348.70 655.80 L346.10 653.20 L348.70 650.60 L346.10 648.00 L343.50 650.60 L340.90 648.00 L338.30 650.60 L340.90 653.20 L338.30 655.80 Z" fill="#800000" fill-opacity="0.95" stroke="#777777" stroke-opacity="0.8" stroke-width="1.10" stroke-linejoin="miter"/>
</g>
<line x1="57.30" y1="457.10" x2="57.30" y2="657.20" stroke="#b0b0b0" stroke-width="0.96" stroke-linecap="butt"/>
<line x1="128.85" y1="457.10" x2="128.85" y2="657.20" stroke="#b0b0b0" stroke-width="0.96" stroke-linecap="butt"/>
<line x1="200.40" y1="457.10" x2="200.40" y2="657.20" stroke="#b0b0b0" stroke-width="0.96" stroke-linecap="butt"/>
<line x1="271.95" y1="457.10" x2="271.95" y2="657.20" stroke="#b0b0b0" stroke-width="0.96" stroke-linecap="butt"/>
<line x1="343.50" y1="457.10" x2="343.50" y2="657.20" stroke="#b0b0b0" stroke-width="0.96" stroke-linecap="butt"/>
<line x1="42.60" y1="653.20" x2="358.00" y2="653.20" stroke="#b0b0b0" stroke-width="0.96" stroke-linecap="butt"/>
<line x1="42.60" y1="605.10" x2="358.00" y2="605.10" stroke="#b0b0b0" stroke-width="0.96" stroke-linecap="butt"/>
<line x1="42.60" y1="557.00" x2="358.00" y2="557.00" stroke="#b0b0b0" stroke-width="0.96" stroke-linecap="butt"/>
<line x1="42.60" y1="508.90" x2="358.00" y2="508.90" stroke="#b0b0b0" stroke-width="0.96" stroke-linecap="butt"/>
<line x1="42.60" y1="460.80" x2="358.00" y2="460.80" stroke="#b0b0b0" stroke-width="0.96" stroke-linecap="butt"/>
<g clip-path="url(#cBL)">
<text x="107.97" y="614.10" font-size="11.98" text-anchor="start" font-style="italic" transform="rotate(-90 107.97 614.10)" textLength="37.23" lengthAdjust="spacingAndGlyphs" fill="#000">ARNTL</text>
<text x="126.14" y="614.10" font-size="11.98" text-anchor="start" font-style="italic" transform="rotate(-90 126.14 614.10)" textLength="36.80" lengthAdjust="spacingAndGlyphs" fill="#000">NPAS2</text>
<text x="149.61" y="614.10" font-size="11.98" text-anchor="start" font-style="italic" transform="rotate(-90 149.61 614.10)" textLength="33.77" lengthAdjust="spacingAndGlyphs" fill="#000">PDIA6</text>
<text x="197.26" y="613.10" font-size="11.98" text-anchor="start" font-style="italic" transform="rotate(-90 197.26 613.10)" textLength="53.84" lengthAdjust="spacingAndGlyphs" fill="#000">MTHFD1L</text>
<text x="228.32" y="613.80" font-size="11.98" text-anchor="start" font-style="italic" transform="rotate(-90 228.32 613.80)" textLength="42.08" lengthAdjust="spacingAndGlyphs" fill="#000">PIK3IP1</text>
<text x="238.48" y="614.20" font-size="11.98" text-anchor="start" font-style="italic" transform="rotate(-90 238.48 614.20)" textLength="32.49" lengthAdjust="spacingAndGlyphs" fill="#000">RORC</text>
<text x="238.48" y="563.10" font-size="11.98" text-anchor="start" font-style="italic" transform="rotate(-90 238.48 563.10)" textLength="27.39" lengthAdjust="spacingAndGlyphs" fill="#000">KLF9</text>
<text x="251.64" y="563.10" font-size="11.98" text-anchor="start" font-style="italic" transform="rotate(-90 251.64 563.10)" textLength="42.17" lengthAdjust="spacingAndGlyphs" fill="#000">PFKFB3</text>
<text x="263.38" y="586.50" font-size="11.98" text-anchor="start" font-style="italic" transform="rotate(-90 263.38 586.50)" textLength="21.29" lengthAdjust="spacingAndGlyphs" fill="#000">HLF</text>
<text x="268.67" y="614.20" font-size="11.98" text-anchor="start" font-style="italic" transform="rotate(-90 268.67 614.20)" textLength="23.27" lengthAdjust="spacingAndGlyphs" fill="#000">DBP</text>
<text x="268.67" y="563.10" font-size="11.98" text-anchor="start" font-style="italic" transform="rotate(-90 268.67 563.10)" textLength="25.93" lengthAdjust="spacingAndGlyphs" fill="#000">CIPC</text>
<text x="300.44" y="613.80" font-size="11.98" text-anchor="start" font-style="italic" transform="rotate(-90 300.44 613.80)" textLength="20.54" lengthAdjust="spacingAndGlyphs" fill="#000">TEF</text>
<text x="353.10" y="614.30" font-size="11.98" text-anchor="start" font-style="italic" transform="rotate(-90 353.10 614.30)" textLength="29.00" lengthAdjust="spacingAndGlyphs" fill="#000">PER3</text>
<line x1="98.37" y1="653.20" x2="98.37" y2="460.80" stroke="#000055" stroke-width="1.75" stroke-opacity="0.5" stroke-linecap="butt"/>
<line x1="116.54" y1="653.20" x2="116.54" y2="460.80" stroke="#00004f" stroke-width="1.75" stroke-opacity="0.5" stroke-linecap="butt"/>
<line x1="140.01" y1="653.20" x2="140.01" y2="460.80" stroke="#0000ae" stroke-width="1.75" stroke-opacity="0.5" stroke-linecap="butt"/>
<line x1="187.66" y1="653.20" x2="187.66" y2="460.80" stroke="#860000" stroke-width="1.75" stroke-opacity="0.5" stroke-linecap="butt"/>
<line x1="218.72" y1="653.20" x2="218.72" y2="460.80" stroke="#a30000" stroke-width="1.75" stroke-opacity="0.5" stroke-linecap="butt"/>
<line x1="228.88" y1="653.20" x2="228.88" y2="460.80" stroke="#ffbdbd" stroke-width="1.75" stroke-opacity="0.5" stroke-linecap="butt"/>
<line x1="228.88" y1="653.20" x2="228.88" y2="460.80" stroke="#a20000" stroke-width="1.75" stroke-opacity="0.5" stroke-linecap="butt"/>
<line x1="242.04" y1="653.20" x2="242.04" y2="460.80" stroke="#a80000" stroke-width="1.75" stroke-opacity="0.5" stroke-linecap="butt"/>
<line x1="253.78" y1="653.20" x2="253.78" y2="460.80" stroke="#820000" stroke-width="1.75" stroke-opacity="0.5" stroke-linecap="butt"/>
<line x1="259.07" y1="653.20" x2="259.07" y2="460.80" stroke="#9a0000" stroke-width="1.75" stroke-opacity="0.5" stroke-linecap="butt"/>
<line x1="259.07" y1="653.20" x2="259.07" y2="460.80" stroke="#930000" stroke-width="1.75" stroke-opacity="0.5" stroke-linecap="butt"/>
<line x1="290.84" y1="653.20" x2="290.84" y2="460.80" stroke="#820000" stroke-width="1.75" stroke-opacity="0.5" stroke-linecap="butt"/>
<line x1="343.50" y1="653.20" x2="343.50" y2="460.80" stroke="#800000" stroke-width="1.75" stroke-opacity="0.5" stroke-linecap="butt"/>
</g>
<rect x="42.60" y="457.10" width="315.40" height="200.10" fill="none" stroke="#2a2a2a" stroke-width="1.1"/>
<line x1="57.30" y1="657.20" x2="57.30" y2="661.30" stroke="#2a2a2a" stroke-width="1.05" stroke-linecap="butt"/>
<text x="57.30" y="674.40" font-size="12.30" text-anchor="middle" textLength="22.63" lengthAdjust="spacingAndGlyphs" fill="#000">-1.0</text>
<line x1="128.85" y1="657.20" x2="128.85" y2="661.30" stroke="#2a2a2a" stroke-width="1.05" stroke-linecap="butt"/>
<text x="128.85" y="674.40" font-size="12.30" text-anchor="middle" textLength="22.63" lengthAdjust="spacingAndGlyphs" fill="#000">-0.5</text>
<line x1="200.40" y1="657.20" x2="200.40" y2="661.30" stroke="#2a2a2a" stroke-width="1.05" stroke-linecap="butt"/>
<text x="200.40" y="674.40" font-size="12.30" text-anchor="middle" textLength="18.45" lengthAdjust="spacingAndGlyphs" fill="#000">0.0</text>
<line x1="271.95" y1="657.20" x2="271.95" y2="661.30" stroke="#2a2a2a" stroke-width="1.05" stroke-linecap="butt"/>
<text x="271.95" y="674.40" font-size="12.30" text-anchor="middle" textLength="18.45" lengthAdjust="spacingAndGlyphs" fill="#000">0.5</text>
<line x1="343.50" y1="657.20" x2="343.50" y2="661.30" stroke="#2a2a2a" stroke-width="1.05" stroke-linecap="butt"/>
<text x="343.50" y="674.40" font-size="12.30" text-anchor="middle" textLength="18.45" lengthAdjust="spacingAndGlyphs" fill="#000">1.0</text>
<line x1="38.50" y1="653.20" x2="42.60" y2="653.20" stroke="#2a2a2a" stroke-width="1.05" stroke-linecap="butt"/>
<text x="34.00" y="658.00" font-size="12.30" text-anchor="end" textLength="7.38" lengthAdjust="spacingAndGlyphs" fill="#000">0</text>
<line x1="38.50" y1="605.10" x2="42.60" y2="605.10" stroke="#2a2a2a" stroke-width="1.05" stroke-linecap="butt"/>
<text x="34.00" y="609.90" font-size="12.30" text-anchor="end" textLength="7.38" lengthAdjust="spacingAndGlyphs" fill="#000">6</text>
<line x1="38.50" y1="557.00" x2="42.60" y2="557.00" stroke="#2a2a2a" stroke-width="1.05" stroke-linecap="butt"/>
<text x="34.00" y="561.80" font-size="12.30" text-anchor="end" textLength="14.76" lengthAdjust="spacingAndGlyphs" fill="#000">12</text>
<line x1="38.50" y1="508.90" x2="42.60" y2="508.90" stroke="#2a2a2a" stroke-width="1.05" stroke-linecap="butt"/>
<text x="34.00" y="513.70" font-size="12.30" text-anchor="end" textLength="14.76" lengthAdjust="spacingAndGlyphs" fill="#000">18</text>
<line x1="38.50" y1="460.80" x2="42.60" y2="460.80" stroke="#2a2a2a" stroke-width="1.05" stroke-linecap="butt"/>
<text x="34.00" y="465.60" font-size="12.30" text-anchor="end" textLength="14.76" lengthAdjust="spacingAndGlyphs" fill="#000">24</text>
<text x="200.30" y="449.80" font-size="14.84" text-anchor="middle" textLength="91.21" lengthAdjust="spacingAndGlyphs" fill="#000">LUAD normal</text>
<text x="165.50" y="691.50" font-size="14.84" text-anchor="start" font-style="italic" textLength="5.76" lengthAdjust="spacingAndGlyphs" fill="#000">r</text>
<text x="171.10" y="694.70" font-size="10.39" text-anchor="start" font-style="italic" textLength="6.22" lengthAdjust="spacingAndGlyphs" fill="#000">S</text>
<text x="181.70" y="691.50" font-size="14.84" text-anchor="start" textLength="14.05" lengthAdjust="spacingAndGlyphs" fill="#000">to</text>
<text x="199.90" y="691.50" font-size="14.84" text-anchor="start" font-style="italic" textLength="37.36" lengthAdjust="spacingAndGlyphs" fill="#000">PER3</text>
<g clip-path="url(#cBR)">
<path d="M648.83 472.03 L651.43 469.43 L654.03 472.03 L656.63 469.43 L654.03 466.83 L656.63 464.23 L654.03 461.63 L651.43 464.23 L648.83 461.63 L646.23 464.23 L648.83 466.83 L646.23 469.43 Z" fill="#820000" fill-opacity="0.8" stroke="#777777" stroke-opacity="0.8" stroke-width="1.10" stroke-linejoin="miter"/>
<path d="M657.90 470.50 L660.50 467.90 L663.10 470.50 L665.70 467.90 L663.10 465.30 L665.70 462.70 L663.10 460.10 L660.50 462.70 L657.90 460.10 L655.30 462.70 L657.90 465.30 L655.30 467.90 Z" fill="#820000" fill-opacity="0.8" stroke="#777777" stroke-opacity="0.8" stroke-width="1.10" stroke-linejoin="miter"/>
<circle cx="385.96" cy="568.18" r="5.20" fill="#00004f" fill-opacity="0.8" stroke="#777777" stroke-opacity="0.8" stroke-width="1.10" stroke-linejoin="miter"/>
<circle cx="387.94" cy="568.86" r="5.20" fill="#000055" fill-opacity="0.8" stroke="#777777" stroke-opacity="0.8" stroke-width="1.10" stroke-linejoin="miter"/>
<circle cx="423.23" cy="538.59" r="5.20" fill="#0000ae" fill-opacity="0.8" stroke="#777777" stroke-opacity="0.8" stroke-width="1.10" stroke-linejoin="miter"/>
<circle cx="545.66" cy="516.83" r="5.20" fill="#ffbdbd" fill-opacity="0.8" stroke="#777777" stroke-opacity="0.8" stroke-width="1.10" stroke-linejoin="miter"/>
<circle cx="631.07" cy="464.28" r="5.20" fill="#930000" fill-opacity="0.8" stroke="#777777" stroke-opacity="0.8" stroke-width="1.10" stroke-linejoin="miter"/>
<circle cx="649.95" cy="463.69" r="5.20" fill="#a20000" fill-opacity="0.8" stroke="#777777" stroke-opacity="0.8" stroke-width="1.10" stroke-linejoin="miter"/>
<circle cx="665.94" cy="465.30" r="5.20" fill="#860000" fill-opacity="0.8" stroke="#777777" stroke-opacity="0.8" stroke-width="1.10" stroke-linejoin="miter"/>
<circle cx="669.82" cy="462.07" r="5.20" fill="#820000" fill-opacity="0.8" stroke="#777777" stroke-opacity="0.8" stroke-width="1.10" stroke-linejoin="miter"/>
<circle cx="658.36" cy="467.60" r="5.20" fill="#930000" fill-opacity="0.8" stroke="#777777" stroke-opacity="0.8" stroke-width="1.10" stroke-linejoin="miter"/>
<circle cx="669.65" cy="461.73" r="5.20" fill="#820000" fill-opacity="0.8" stroke="#777777" stroke-opacity="0.8" stroke-width="1.10" stroke-linejoin="miter"/>
<circle cx="649.62" cy="644.78" r="5.20" fill="#a80000" fill-opacity="0.8" stroke="#777777" stroke-opacity="0.8" stroke-width="1.10" stroke-linejoin="miter"/>
<circle cx="649.62" cy="652.60" r="5.20" fill="#a30000" fill-opacity="0.8" stroke="#777777" stroke-opacity="0.8" stroke-width="1.10" stroke-linejoin="miter"/>
<path d="M393.79 567.51 L404.19 567.51 L404.19 557.11 L393.79 557.11 Z" fill="#00004f" fill-opacity="0.8" stroke="#777777" stroke-opacity="0.8" stroke-width="1.10" stroke-linejoin="miter"/>
<path d="M396.92 564.03 L407.32 564.03 L407.32 553.63 L396.92 553.63 Z" fill="#000055" fill-opacity="0.8" stroke="#777777" stroke-opacity="0.8" stroke-width="1.10" stroke-linejoin="miter"/>
<path d="M415.64 532.74 L426.04 532.74 L426.04 522.34 L415.64 522.34 Z" fill="#0000ae" fill-opacity="0.8" stroke="#777777" stroke-opacity="0.8" stroke-width="1.10" stroke-linejoin="miter"/>
<path d="M533.70 505.36 L544.10 505.36 L544.10 494.96 L533.70 494.96 Z" fill="#ffbdbd" fill-opacity="0.8" stroke="#777777" stroke-opacity="0.8" stroke-width="1.10" stroke-linejoin="miter"/>
<path d="M626.86 468.29 L637.26 468.29 L637.26 457.89 L626.86 457.89 Z" fill="#a20000" fill-opacity="0.8" stroke="#777777" stroke-opacity="0.8" stroke-width="1.10" stroke-linejoin="miter"/>
<path d="M654.56 466.85 L664.96 466.85 L664.96 456.45 L654.56 456.45 Z" fill="#930000" fill-opacity="0.8" stroke="#777777" stroke-opacity="0.8" stroke-width="1.10" stroke-linejoin="miter"/>
<path d="M654.31 469.48 L664.71 469.48 L664.71 459.08 L654.31 459.08 Z" fill="#860000" fill-opacity="0.8" stroke="#777777" stroke-opacity="0.8" stroke-width="1.10" stroke-linejoin="miter"/>
<path d="M660.74 470.16 L671.14 470.16 L671.14 459.76 L660.74 459.76 Z" fill="#820000" fill-opacity="0.8" stroke="#777777" stroke-opacity="0.8" stroke-width="1.10" stroke-linejoin="miter"/>
<path d="M638.24 645.05 L648.64 645.05 L648.64 634.65 L638.24 634.65 Z" fill="#a80000" fill-opacity="0.8" stroke="#777777" stroke-opacity="0.8" stroke-width="1.10" stroke-linejoin="miter"/>
<path d="M651.76 653.30 L662.16 653.30 L662.16 642.90 L651.76 642.90 Z" fill="#a30000" fill-opacity="0.8" stroke="#777777" stroke-opacity="0.8" stroke-width="1.10" stroke-linejoin="miter"/>
<path d="M649.86 653.98 L660.26 653.98 L660.26 643.58 L649.86 643.58 Z" fill="#820000" fill-opacity="0.8" stroke="#777777" stroke-opacity="0.8" stroke-width="1.10" stroke-linejoin="miter"/>
<path d="M649.86 656.27 L660.26 656.27 L660.26 645.87 L649.86 645.87 Z" fill="#860000" fill-opacity="0.8" stroke="#777777" stroke-opacity="0.8" stroke-width="1.10" stroke-linejoin="miter"/>
<path d="M649.94 648.45 L660.34 648.45 L660.34 638.05 L649.94 638.05 Z" fill="#9a0000" fill-opacity="0.8" stroke="#777777" stroke-opacity="0.8" stroke-width="1.10" stroke-linejoin="miter"/>
<path d="M664.70 658.40 L675.10 658.40 L675.10 648.00 L664.70 648.00 Z" fill="#800000" fill-opacity="0.45" stroke="#777777" stroke-opacity="0.8" stroke-width="1.10" stroke-linejoin="miter"/>
<path d="M394.29 549.29 L389.34 552.88 L391.23 558.70 L397.34 558.70 L399.23 552.88 Z" fill="#00004f" fill-opacity="0.8" stroke="#777777" stroke-opacity="0.8" stroke-width="1.10" stroke-linejoin="miter"/>
<path d="M402.45 553.80 L397.50 557.39 L399.39 563.20 L405.51 563.20 L407.40 557.39 Z" fill="#000055" fill-opacity="0.8" stroke="#777777" stroke-opacity="0.8" stroke-width="1.10" stroke-linejoin="miter"/>
<path d="M412.92 574.46 L407.98 578.05 L409.86 583.86 L415.98 583.86 L417.87 578.05 Z" fill="#0000ae" fill-opacity="0.8" stroke="#777777" stroke-opacity="0.8" stroke-width="1.10" stroke-linejoin="miter"/>
<path d="M582.01 512.73 L577.07 516.32 L578.96 522.14 L585.07 522.14 L586.96 516.32 Z" fill="#ffbdbd" fill-opacity="0.8" stroke="#777777" stroke-opacity="0.8" stroke-width="1.10" stroke-linejoin="miter"/>
<path d="M642.94 625.30 L638.00 628.89 L639.88 634.71 L646.00 634.71 L647.89 628.89 Z" fill="#820000" fill-opacity="0.8" stroke="#777777" stroke-opacity="0.8" stroke-width="1.10" stroke-linejoin="miter"/>
<path d="M669.90 648.00 L664.95 651.59 L666.84 657.41 L672.96 657.41 L674.85 651.59 Z" fill="#800000" fill-opacity="0.3" stroke="#777777" stroke-opacity="0.8" stroke-width="1.10" stroke-linejoin="miter"/>
<path d="M398.82 558.10 L403.24 550.75 L398.82 543.40 L394.41 550.75 Z" fill="#00004f" fill-opacity="0.8" stroke="#777777" stroke-opacity="0.8" stroke-width="1.10" stroke-linejoin="miter"/>
<path d="M404.02 553.94 L408.43 546.58 L404.02 539.23 L399.60 546.58 Z" fill="#000055" fill-opacity="0.8" stroke="#777777" stroke-opacity="0.8" stroke-width="1.10" stroke-linejoin="miter"/>
<path d="M427.60 577.66 L432.01 570.30 L427.60 562.95 L423.18 570.30 Z" fill="#0000ae" fill-opacity="0.8" stroke="#777777" stroke-opacity="0.8" stroke-width="1.10" stroke-linejoin="miter"/>
<path d="M524.88 541.01 L529.29 533.66 L524.88 526.31 L520.47 533.66 Z" fill="#ffbdbd" fill-opacity="0.8" stroke="#777777" stroke-opacity="0.8" stroke-width="1.10" stroke-linejoin="miter"/>
<path d="M629.17 477.33 L633.59 469.98 L629.17 462.63 L624.76 469.98 Z" fill="#a20000" fill-opacity="0.8" stroke="#777777" stroke-opacity="0.8" stroke-width="1.10" stroke-linejoin="miter"/>
<path d="M633.71 643.63 L638.12 636.28 L633.71 628.93 L629.29 636.28 Z" fill="#a80000" fill-opacity="0.8" stroke="#777777" stroke-opacity="0.8" stroke-width="1.10" stroke-linejoin="miter"/>
<path d="M632.06 647.21 L636.47 639.85 L632.06 632.50 L627.65 639.85 Z" fill="#930000" fill-opacity="0.8" stroke="#777777" stroke-opacity="0.8" stroke-width="1.10" stroke-linejoin="miter"/>
<path d="M636.92 646.10 L641.33 638.75 L636.92 631.39 L632.51 638.75 Z" fill="#820000" fill-opacity="0.8" stroke="#777777" stroke-opacity="0.8" stroke-width="1.10" stroke-linejoin="miter"/>
<path d="M630.41 653.07 L634.82 645.72 L630.41 638.36 L626.00 645.72 Z" fill="#a20000" fill-opacity="0.8" stroke="#777777" stroke-opacity="0.8" stroke-width="1.10" stroke-linejoin="miter"/>
<path d="M635.36 653.75 L639.77 646.40 L635.36 639.04 L630.94 646.40 Z" fill="#820000" fill-opacity="0.8" stroke="#777777" stroke-opacity="0.8" stroke-width="1.10" stroke-linejoin="miter"/>
<path d="M628.76 659.02 L633.17 651.67 L628.76 644.32 L624.35 651.67 Z" fill="#a30000" fill-opacity="0.8" stroke="#777777" stroke-opacity="0.8" stroke-width="1.10" stroke-linejoin="miter"/>
<path d="M638.90 654.60 L643.31 647.25 L638.90 639.89 L634.49 647.25 Z" fill="#860000" fill-opacity="0.8" stroke="#777777" stroke-opacity="0.8" stroke-width="1.10" stroke-linejoin="miter"/>
<path d="M666.60 656.73 L671.01 649.37 L666.60 642.02 L662.19 649.37 Z" fill="#800000" fill-opacity="0.8" stroke="#777777" stroke-opacity="0.8" stroke-width="1.10" stroke-linejoin="miter"/>
<circle cx="655.22" cy="642.57" r="5.20" fill="#9a0000" fill-opacity="0.8" stroke="#777777" stroke-opacity="0.8" stroke-width="1.10" stroke-linejoin="miter"/>
<path d="M429.53 576.78 L432.13 574.18 L434.73 576.78 L437.33 574.18 L434.73 571.58 L437.33 568.98 L434.73 566.38 L432.13 568.98 L429.53 566.38 L426.93 568.98 L429.53 571.58 L426.93 574.18 Z" fill="#00004f" fill-opacity="0.8" stroke="#777777" stroke-opacity="0.8" stroke-width="1.10" stroke-linejoin="miter"/>
<path d="M431.84 578.73 L434.44 576.13 L437.04 578.73 L439.64 576.13 L437.04 573.53 L439.64 570.93 L437.04 568.33 L434.44 570.93 L431.84 568.33 L429.24 570.93 L431.84 573.53 L429.24 576.13 Z" fill="#000055" fill-opacity="0.8" stroke="#777777" stroke-opacity="0.8" stroke-width="1.10" stroke-linejoin="miter"/>
<path d="M431.34 614.36 L433.94 611.76 L436.54 614.36 L439.14 611.76 L436.54 609.16 L439.14 606.56 L436.54 603.96 L433.94 606.56 L431.34 603.96 L428.74 606.56 L431.34 609.16 L428.74 611.76 Z" fill="#0000ae" fill-opacity="0.8" stroke="#777777" stroke-opacity="0.8" stroke-width="1.10" stroke-linejoin="miter"/>
<path d="M539.35 531.04 L541.95 528.44 L544.55 531.04 L547.15 528.44 L544.55 525.84 L547.15 523.24 L544.55 520.64 L541.95 523.24 L539.35 520.64 L536.75 523.24 L539.35 525.84 L536.75 528.44 Z" fill="#ffbdbd" fill-opacity="0.8" stroke="#777777" stroke-opacity="0.8" stroke-width="1.10" stroke-linejoin="miter"/>
<path d="M621.13 466.42 L623.73 463.82 L626.33 466.42 L628.93 463.82 L626.33 461.22 L628.93 458.62 L626.33 456.02 L623.73 458.62 L621.13 456.02 L618.53 458.62 L621.13 461.22 L618.53 463.82 Z" fill="#860000" fill-opacity="0.8" stroke="#777777" stroke-opacity="0.8" stroke-width="1.10" stroke-linejoin="miter"/>
<path d="M614.29 478.24 L616.89 475.64 L619.49 478.24 L622.09 475.64 L619.49 473.04 L622.09 470.44 L619.49 467.84 L616.89 470.44 L614.29 467.84 L611.69 470.44 L614.29 473.04 L611.69 475.64 Z" fill="#a20000" fill-opacity="0.8" stroke="#777777" stroke-opacity="0.8" stroke-width="1.10" stroke-linejoin="miter"/>
<path d="M615.28 485.47 L617.88 482.87 L620.48 485.47 L623.08 482.87 L620.48 480.27 L623.08 477.67 L620.48 475.07 L617.88 477.67 L615.28 475.07 L612.68 477.67 L615.28 480.27 L612.68 482.87 Z" fill="#9a0000" fill-opacity="0.8" stroke="#777777" stroke-opacity="0.8" stroke-width="1.10" stroke-linejoin="miter"/>
<path d="M628.30 494.90 L630.90 492.30 L633.50 494.90 L636.10 492.30 L633.50 489.70 L636.10 487.10 L633.50 484.50 L630.90 487.10 L628.30 484.50 L625.70 487.10 L628.30 489.70 L625.70 492.30 Z" fill="#a80000" fill-opacity="0.8" stroke="#777777" stroke-opacity="0.8" stroke-width="1.10" stroke-linejoin="miter"/>
<path d="M638.53 481.22 L641.13 478.62 L643.73 481.22 L646.33 478.62 L643.73 476.02 L646.33 473.42 L643.73 470.82 L641.13 473.42 L638.53 470.82 L635.93 473.42 L638.53 476.02 L635.93 478.62 Z" fill="#a30000" fill-opacity="0.8" stroke="#777777" stroke-opacity="0.8" stroke-width="1.10" stroke-linejoin="miter"/>
<path d="M667.30 658.40 L669.90 655.80 L672.50 658.40 L675.10 655.80 L672.50 653.20 L675.10 650.60 L672.50 648.00 L669.90 650.60 L667.30 648.00 L664.70 650.60 L667.30 653.20 L664.70 655.80 Z" fill="#800000" fill-opacity="0.95" stroke="#777777" stroke-opacity="0.8" stroke-width="1.10" stroke-linejoin="miter"/>
</g>
<line x1="383.90" y1="457.10" x2="383.90" y2="657.20" stroke="#b0b0b0" stroke-width="0.96" stroke-linecap="butt"/>
<line x1="455.40" y1="457.10" x2="455.40" y2="657.20" stroke="#b0b0b0" stroke-width="0.96" stroke-linecap="butt"/>
<line x1="526.90" y1="457.10" x2="526.90" y2="657.20" stroke="#b0b0b0" stroke-width="0.96" stroke-linecap="butt"/>
<line x1="598.40" y1="457.10" x2="598.40" y2="657.20" stroke="#b0b0b0" stroke-width="0.96" stroke-linecap="butt"/>
<line x1="669.90" y1="457.10" x2="669.90" y2="657.20" stroke="#b0b0b0" stroke-width="0.96" stroke-linecap="butt"/>
<line x1="369.00" y1="653.20" x2="684.40" y2="653.20" stroke="#b0b0b0" stroke-width="0.96" stroke-linecap="butt"/>
<line x1="369.00" y1="605.10" x2="684.40" y2="605.10" stroke="#b0b0b0" stroke-width="0.96" stroke-linecap="butt"/>
<line x1="369.00" y1="557.00" x2="684.40" y2="557.00" stroke="#b0b0b0" stroke-width="0.96" stroke-linecap="butt"/>
<line x1="369.00" y1="508.90" x2="684.40" y2="508.90" stroke="#b0b0b0" stroke-width="0.96" stroke-linecap="butt"/>
<line x1="369.00" y1="460.80" x2="684.40" y2="460.80" stroke="#b0b0b0" stroke-width="0.96" stroke-linecap="butt"/>
<g clip-path="url(#cBR)">
<text x="473.87" y="613.80" font-size="11.98" text-anchor="start" font-style="italic" transform="rotate(-90 473.87 613.80)" textLength="33.77" lengthAdjust="spacingAndGlyphs" fill="#000">PDIA6</text>
<text x="488.45" y="614.80" font-size="11.98" text-anchor="start" font-style="italic" transform="rotate(-90 488.45 614.80)" textLength="32.49" lengthAdjust="spacingAndGlyphs" fill="#000">RORC</text>
<text x="502.89" y="614.80" font-size="11.98" text-anchor="start" font-style="italic" transform="rotate(-90 502.89 614.80)" textLength="36.80" lengthAdjust="spacingAndGlyphs" fill="#000">NPAS2</text>
<text x="513.19" y="613.80" font-size="11.98" text-anchor="start" font-style="italic" transform="rotate(-90 513.19 613.80)" textLength="53.84" lengthAdjust="spacingAndGlyphs" fill="#000">MTHFD1L</text>
<text x="529.64" y="562.50" font-size="11.98" text-anchor="start" font-style="italic" transform="rotate(-90 529.64 562.50)" textLength="27.39" lengthAdjust="spacingAndGlyphs" fill="#000">KLF9</text>
<text x="535.07" y="613.80" font-size="11.98" text-anchor="start" font-style="italic" transform="rotate(-90 535.07 613.80)" textLength="37.23" lengthAdjust="spacingAndGlyphs" fill="#000">ARNTL</text>
<text x="541.65" y="563.30" font-size="11.98" text-anchor="start" font-style="italic" transform="rotate(-90 541.65 563.30)" textLength="42.17" lengthAdjust="spacingAndGlyphs" fill="#000">PFKFB3</text>
<text x="576.97" y="613.80" font-size="11.98" text-anchor="start" font-style="italic" transform="rotate(-90 576.97 613.80)" textLength="42.08" lengthAdjust="spacingAndGlyphs" fill="#000">PIK3IP1</text>
<text x="578.26" y="562.50" font-size="11.98" text-anchor="start" font-style="italic" transform="rotate(-90 578.26 562.50)" textLength="25.93" lengthAdjust="spacingAndGlyphs" fill="#000">CIPC</text>
<text x="585.41" y="613.80" font-size="11.98" text-anchor="start" font-style="italic" transform="rotate(-90 585.41 613.80)" textLength="23.27" lengthAdjust="spacingAndGlyphs" fill="#000">DBP</text>
<text x="597.99" y="587.50" font-size="11.98" text-anchor="start" font-style="italic" transform="rotate(-90 597.99 587.50)" textLength="21.29" lengthAdjust="spacingAndGlyphs" fill="#000">HLF</text>
<text x="619.87" y="614.80" font-size="11.98" text-anchor="start" font-style="italic" transform="rotate(-90 619.87 614.80)" textLength="20.54" lengthAdjust="spacingAndGlyphs" fill="#000">TEF</text>
<text x="679.50" y="614.30" font-size="11.98" text-anchor="start" font-style="italic" transform="rotate(-90 679.50 614.30)" textLength="29.00" lengthAdjust="spacingAndGlyphs" fill="#000">PER3</text>
<line x1="464.27" y1="653.20" x2="464.27" y2="460.80" stroke="#0000ae" stroke-width="1.75" stroke-opacity="0.5" stroke-linecap="butt"/>
<line x1="478.85" y1="653.20" x2="478.85" y2="460.80" stroke="#ffbdbd" stroke-width="1.75" stroke-opacity="0.5" stroke-linecap="butt"/>
<line x1="493.29" y1="653.20" x2="493.29" y2="460.80" stroke="#00004f" stroke-width="1.75" stroke-opacity="0.5" stroke-linecap="butt"/>
<line x1="503.59" y1="653.20" x2="503.59" y2="460.80" stroke="#860000" stroke-width="1.75" stroke-opacity="0.5" stroke-linecap="butt"/>
<line x1="520.04" y1="653.20" x2="520.04" y2="460.80" stroke="#a20000" stroke-width="1.75" stroke-opacity="0.5" stroke-linecap="butt"/>
<line x1="525.47" y1="653.20" x2="525.47" y2="460.80" stroke="#000055" stroke-width="1.75" stroke-opacity="0.5" stroke-linecap="butt"/>
<line x1="532.05" y1="653.20" x2="532.05" y2="460.80" stroke="#a80000" stroke-width="1.75" stroke-opacity="0.5" stroke-linecap="butt"/>
<line x1="567.37" y1="653.20" x2="567.37" y2="460.80" stroke="#a30000" stroke-width="1.75" stroke-opacity="0.5" stroke-linecap="butt"/>
<line x1="568.66" y1="653.20" x2="568.66" y2="460.80" stroke="#930000" stroke-width="1.75" stroke-opacity="0.5" stroke-linecap="butt"/>
<line x1="575.81" y1="653.20" x2="575.81" y2="460.80" stroke="#9a0000" stroke-width="1.75" stroke-opacity="0.5" stroke-linecap="butt"/>
<line x1="588.39" y1="653.20" x2="588.39" y2="460.80" stroke="#820000" stroke-width="1.75" stroke-opacity="0.5" stroke-linecap="butt"/>
<line x1="610.27" y1="653.20" x2="610.27" y2="460.80" stroke="#820000" stroke-width="1.75" stroke-opacity="0.5" stroke-linecap="butt"/>
<line x1="669.90" y1="653.20" x2="669.90" y2="460.80" stroke="#800000" stroke-width="1.75" stroke-opacity="0.5" stroke-linecap="butt"/>
</g>
<rect x="369.00" y="457.10" width="315.40" height="200.10" fill="none" stroke="#2a2a2a" stroke-width="1.1"/>
<line x1="383.90" y1="657.20" x2="383.90" y2="661.30" stroke="#2a2a2a" stroke-width="1.05" stroke-linecap="butt"/>
<text x="383.90" y="674.40" font-size="12.30" text-anchor="middle" textLength="22.63" lengthAdjust="spacingAndGlyphs" fill="#000">-1.0</text>
<line x1="455.40" y1="657.20" x2="455.40" y2="661.30" stroke="#2a2a2a" stroke-width="1.05" stroke-linecap="butt"/>
<text x="455.40" y="674.40" font-size="12.30" text-anchor="middle" textLength="22.63" lengthAdjust="spacingAndGlyphs" fill="#000">-0.5</text>
<line x1="526.90" y1="657.20" x2="526.90" y2="661.30" stroke="#2a2a2a" stroke-width="1.05" stroke-linecap="butt"/>
<text x="526.90" y="674.40" font-size="12.30" text-anchor="middle" textLength="18.45" lengthAdjust="spacingAndGlyphs" fill="#000">0.0</text>
<line x1="598.40" y1="657.20" x2="598.40" y2="661.30" stroke="#2a2a2a" stroke-width="1.05" stroke-linecap="butt"/>
<text x="598.40" y="674.40" font-size="12.30" text-anchor="middle" textLength="18.45" lengthAdjust="spacingAndGlyphs" fill="#000">0.5</text>
<line x1="669.90" y1="657.20" x2="669.90" y2="661.30" stroke="#2a2a2a" stroke-width="1.05" stroke-linecap="butt"/>
<text x="669.90" y="674.40" font-size="12.30" text-anchor="middle" textLength="18.45" lengthAdjust="spacingAndGlyphs" fill="#000">1.0</text>
<line x1="364.90" y1="653.20" x2="369.00" y2="653.20" stroke="#2a2a2a" stroke-width="1.05" stroke-linecap="butt"/>
<line x1="364.90" y1="605.10" x2="369.00" y2="605.10" stroke="#2a2a2a" stroke-width="1.05" stroke-linecap="butt"/>
<line x1="364.90" y1="557.00" x2="369.00" y2="557.00" stroke="#2a2a2a" stroke-width="1.05" stroke-linecap="butt"/>
<line x1="364.90" y1="508.90" x2="369.00" y2="508.90" stroke="#2a2a2a" stroke-width="1.05" stroke-linecap="butt"/>
<line x1="364.90" y1="460.80" x2="369.00" y2="460.80" stroke="#2a2a2a" stroke-width="1.05" stroke-linecap="butt"/>
<text x="526.70" y="449.80" font-size="14.84" text-anchor="middle" textLength="84.48" lengthAdjust="spacingAndGlyphs" fill="#000">LUAD tumor</text>
<text x="491.90" y="691.50" font-size="14.84" text-anchor="start" font-style="italic" textLength="5.76" lengthAdjust="spacingAndGlyphs" fill="#000">r</text>
<text x="497.50" y="694.70" font-size="10.39" text-anchor="start" font-style="italic" textLength="6.22" lengthAdjust="spacingAndGlyphs" fill="#000">S</text>
<text x="508.10" y="691.50" font-size="14.84" text-anchor="start" textLength="14.05" lengthAdjust="spacingAndGlyphs" fill="#000">to</text>
<text x="526.30" y="691.50" font-size="14.84" text-anchor="start" font-style="italic" textLength="37.36" lengthAdjust="spacingAndGlyphs" fill="#000">PER3</text>
<text x="12.00" y="594.60" font-size="14.84" text-anchor="start" transform="rotate(-90 12.00 594.60)" textLength="9.58" lengthAdjust="spacingAndGlyphs" fill="#000">Δ</text>
<text x="12.00" y="585.00" font-size="14.84" text-anchor="start" font-style="italic" transform="rotate(-90 12.00 585.00)" textLength="9.24" lengthAdjust="spacingAndGlyphs" fill="#000">φ</text>
<text x="12.00" y="572.60" font-size="14.84" text-anchor="start" transform="rotate(-90 12.00 572.60)" textLength="14.05" lengthAdjust="spacingAndGlyphs" fill="#000">to</text>
<text x="12.00" y="555.00" font-size="14.84" text-anchor="start" font-style="italic" transform="rotate(-90 12.00 555.00)" textLength="35.92" lengthAdjust="spacingAndGlyphs" fill="#000">PER3</text>
</svg>
</body></html>
